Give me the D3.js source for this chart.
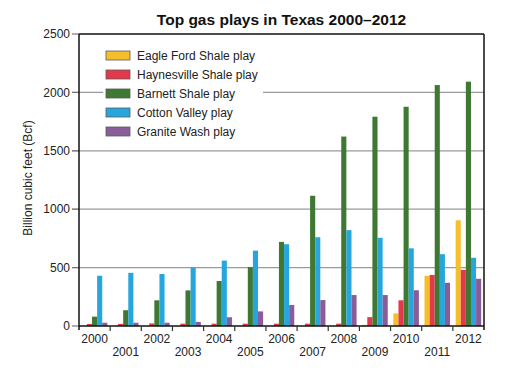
<!DOCTYPE html>
<html>
<head>
<meta charset="utf-8">
<script src="https://cdn.jsdelivr.net/npm/d3@7"></script>
<style>
  body { margin: 0; background: #fff; }
  svg { display: block; font-family: "Liberation Sans", Arial, sans-serif; }
</style>
</head>
<body>
<svg id="chart" width="510" height="374"></svg>
<script>
// chart data
const years = ["2000", "2001", "2002", "2003", "2004", "2005", "2006", "2007", "2008", "2009", "2010", "2011", "2012"];
const plays = ["Eagle Ford Shale play", "Haynesville Shale play", "Barnett Shale play", "Cotton Valley play", "Granite Wash play"];
const eagleFord = [0, 0, 0, 0, 0, 0, 0, 0, 0, 10, 108, 430, 905];
const haynesville = [18, 18, 22, 20, 20, 20, 20, 20, 20, 76, 220, 437, 480];
const barnett = [80, 135, 220, 305, 385, 505, 720, 1115, 1622, 1792, 1877, 2063, 2092];
const cottonValley = [430, 455, 445, 500, 560, 645, 700, 760, 821, 755, 665, 615, 584];
const graniteWash = [28, 28, 28, 35, 75, 125, 180, 222, 265, 265, 306, 370, 404];
const yTicks = [0, 500, 1000, 1500, 2000, 2500];

const series = [eagleFord, haynesville, barnett, cottonValley, graniteWash];
const colors = ["#f7be2b", "#e23a4c", "#3f7833", "#27a6de", "#8a5d9a"];

const svg = d3.select("#chart");
const margin = { top: 34, right: 26, bottom: 48, left: 79 };
const width = 510 - margin.left - margin.right;
const height = 374 - margin.top - margin.bottom;

const g = svg.append("g").attr("transform", `translate(${margin.left},${margin.top})`);

const x = d3.scaleBand().domain(years).range([0, width]).padding(0);
const xInner = d3.scaleBand().domain(d3.range(plays.length)).range([0, x.bandwidth()]).paddingOuter(0.55).paddingInner(0);
const y = d3.scaleLinear().domain([0, 2500]).range([height, 0]);

// gridlines
g.append("g")
  .selectAll("line")
  .data(yTicks.filter(d => d > 0 && d < 2500))
  .join("line")
  .attr("x1", -7)
  .attr("x2", width)
  .attr("y1", d => y(d))
  .attr("y2", d => y(d))
  .attr("stroke", "#9a9a9a")
  .attr("stroke-width", 1.2);

// y tick marks + labels
const yAxis = g.append("g");
yAxis.selectAll("line")
  .data(yTicks)
  .join("line")
  .attr("x1", -7)
  .attr("x2", 0)
  .attr("y1", d => y(d))
  .attr("y2", d => y(d))
  .attr("stroke", "#777")
  .attr("stroke-width", 1.2);
yAxis.selectAll("text")
  .data(yTicks)
  .join("text")
  .attr("x", -9)
  .attr("y", d => y(d))
  .attr("dy", "0.35em")
  .attr("text-anchor", "end")
  .attr("font-size", 12)
  .attr("fill", "#222")
  .text(d => d);

// legend box (white, hides the gridline behind it)
const legend = g.append("g").attr("transform", "translate(27,17)");
legend.append("rect")
  .attr("x", -3)
  .attr("y", -3)
  .attr("width", 160)
  .attr("height", 96)
  .attr("fill", "#fff");
const item = legend.selectAll("g.item")
  .data(plays)
  .join("g")
  .attr("class", "item")
  .attr("transform", (d, i) => `translate(0,${i * 19})`);
item.append("rect")
  .attr("width", 24)
  .attr("height", 9)
  .attr("fill", (d, i) => colors[i])
  .attr("stroke", "#5a5a5a")
  .attr("stroke-width", 0.8);
item.append("text")
  .attr("x", 31)
  .attr("y", 4.5)
  .attr("dy", "0.35em")
  .attr("font-size", 12)
  .attr("fill", "#222")
  .text(d => d);

// bars
const groups = g.append("g")
  .selectAll("g")
  .data(years)
  .join("g")
  .attr("transform", d => `translate(${x(d)},0)`);
groups.selectAll("rect")
  .data((yr, yi) => series.map((s, si) => ({ si, v: s[yi] })))
  .join("rect")
  .attr("x", d => xInner(d.si))
  .attr("width", xInner.bandwidth())
  .attr("y", d => y(d.v))
  .attr("height", d => height - y(d.v))
  .attr("fill", d => colors[d.si]);

// frame: left axis, top, right, bottom
g.append("line").attr("x1", 0).attr("x2", 0).attr("y1", 0).attr("y2", height + 4)
  .attr("stroke", "#111").attr("stroke-width", 1.5);
g.append("line").attr("x1", 0).attr("x2", width).attr("y1", 0).attr("y2", 0)
  .attr("stroke", "#111").attr("stroke-width", 1.5);
g.append("line").attr("x1", width).attr("x2", width).attr("y1", 0).attr("y2", height + 4)
  .attr("stroke", "#111").attr("stroke-width", 1.5);
g.append("line").attr("x1", 0).attr("x2", width).attr("y1", height).attr("y2", height)
  .attr("stroke", "#111").attr("stroke-width", 1.5);

// x ticks between groups
g.append("g")
  .selectAll("line")
  .data(years.slice(1))
  .join("line")
  .attr("x1", d => x(d))
  .attr("x2", d => x(d))
  .attr("y1", height)
  .attr("y2", height + 5)
  .attr("stroke", "#333")
  .attr("stroke-width", 1.2);

// x labels, staggered
g.append("g")
  .selectAll("text")
  .data(years)
  .join("text")
  .attr("x", d => x(d) + x.bandwidth() / 2)
  .attr("y", (d, i) => height + (i % 2 === 0 ? 17 : 30))
  .attr("text-anchor", "middle")
  .attr("font-size", 12)
  .attr("fill", "#222")
  .text(d => d);

// y axis title
svg.append("text")
  .attr("transform", `translate(32,${margin.top + height / 2 - 2}) rotate(-90)`)
  .attr("text-anchor", "middle")
  .attr("font-size", 12)
  .attr("fill", "#222")
  .text("Billion cubic feet (Bcf)");

// chart title
svg.append("text")
  .attr("x", margin.left + width / 2)
  .attr("y", 25)
  .attr("text-anchor", "middle")
  .attr("font-size", 15.5)
  .attr("font-weight", "bold")
  .attr("fill", "#111")
  .text("Top gas plays in Texas 2000–2012");
</script>
</body>
</html>
